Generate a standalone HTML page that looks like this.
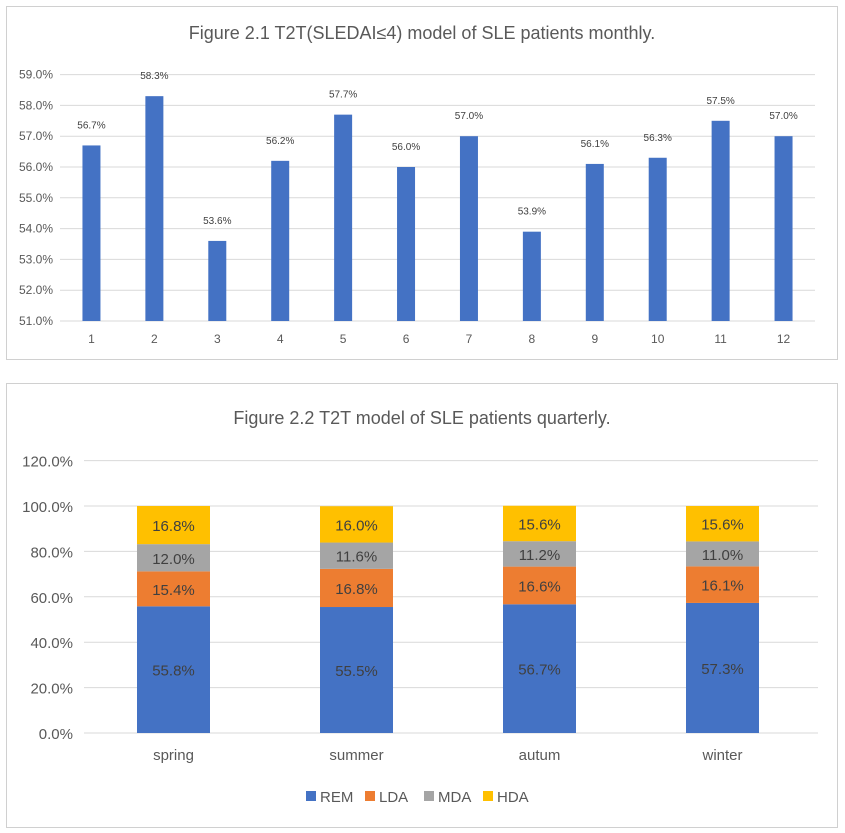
<!DOCTYPE html>
<html><head><meta charset="utf-8"><style>
body{margin:0;background:#fff;width:845px;height:833px;overflow:hidden;font-family:"Liberation Sans","Noto Sans CJK SC",sans-serif}
svg{position:absolute;left:0;top:0}
</style></head><body>
<svg id="s" width="845" height="833">
<rect x="6.5" y="6.5" width="831" height="353" fill="#fff" stroke="#d0d0d0"/>
<text x="422" y="39" text-anchor="middle" font-size="18" fill="#595959">Figure 2.1 T2T(SLEDAI≤4) model of SLE patients monthly.</text>
<rect x="6.5" y="383.5" width="831" height="444" fill="#fff" stroke="#d0d0d0"/>
<text x="422" y="424" text-anchor="middle" font-size="18" fill="#595959">Figure 2.2 T2T model of SLE patients quarterly.</text>
<g id="c1"></g><g id="c2"></g>
</svg>
<script>
const months=["1","2","3","4","5","6","7","8","9","10","11","12"];
const monthVals=[56.7,58.3,53.6,56.2,57.7,56.0,57.0,53.9,56.1,56.3,57.5,57.0];
const yTicks1=[51,52,53,54,55,56,57,58,59];
const seasons=["spring","summer","autum","winter"];
const rem=[55.8,55.5,56.7,57.3];
const lda=[15.4,16.8,16.6,16.1];
const mda=[12.0,11.6,11.2,11.0];
const hda=[16.8,16.0,15.6,15.6];
const yTicks2=[0,20,40,60,80,100,120];
const NS="http://www.w3.org/2000/svg";
function mk(p,t,a,txt){const e=document.createElementNS(NS,t);for(const k in a)e.setAttribute(k,a[k]);if(txt!=null)e.textContent=txt;p.appendChild(e);return e;}
// chart 1
const c1=document.getElementById('c1');
const x1=i=>60+(i+0.5)*(755/12), y1=v=>321-(v-51)*30.8;
yTicks1.forEach(t=>{
 const l=mk(c1,'line',{x1:60,x2:815,y1:y1(t),y2:y1(t),stroke:'#d9d9d9'});
 
 
 const tx=mk(c1,'text',{x:53,y:y1(t)+4,'text-anchor':'end','font-size':12,fill:'#595959'},t.toFixed(1)+'%');
 
 
});
monthVals.forEach((v,i)=>{
 const b=mk(c1,'rect',{x:x1(i)-9,y:y1(v),width:18,height:y1(51)-y1(v),fill:'#4472c4'});
 
 
 const t=mk(c1,'text',{x:x1(i),y:y1(v)-17,'text-anchor':'middle','font-size':10,fill:'#404040'},v.toFixed(1)+'%');
 
 
 const xl=mk(c1,'text',{x:x1(i),y:343,'text-anchor':'middle','font-size':12,fill:'#595959'},months[i]);
 
 
});
// chart 2
const c2=document.getElementById('c2');
const x2=i=>82+(i+0.5)*183, y2=v=>733-v*2.27;
yTicks2.forEach(t=>{
 const l=mk(c2,'line',{x1:84,x2:818,y1:y2(t),y2:y2(t),stroke:'#d9d9d9'});
 
 
 const tx=mk(c2,'text',{x:73,y:y2(t)+6,'text-anchor':'end','font-size':15,fill:'#595959'},t.toFixed(1)+'%');
 
 
});
const series=[["REM",rem,"#4472c4"],["LDA",lda,"#ed7d31"],["MDA",mda,"#a5a5a5"],["HDA",hda,"#ffc000"]];
seasons.forEach((s,i)=>{
 let base=0;
 series.forEach(([n,arr,col])=>{
  const v=arr[i];
  const r=mk(c2,'rect',{x:x2(i)-36.5,y:y2(base+v),width:73,height:y2(base)-y2(base+v),fill:col});
  
  
  const t=mk(c2,'text',{x:x2(i),y:(y2(base)+y2(base+v))/2+6,'text-anchor':'middle','font-size':15,fill:'#404040'},v.toFixed(1)+'%');
  
  
  base+=v;
 });
 const xl=mk(c2,'text',{x:x2(i),y:760,'text-anchor':'middle','font-size':15,fill:'#595959'},s);
 
 
});
let lx=306;
series.forEach(([n,arr,col])=>{
 const g=mk(c2,'g',{});
 
 
 mk(g,'rect',{x:lx,y:791,width:10,height:10,fill:col});
 mk(g,'text',{x:lx+14,y:802,'font-size':15,fill:'#595959'},n);
 lx+=59;
});
</script>
</body></html>
